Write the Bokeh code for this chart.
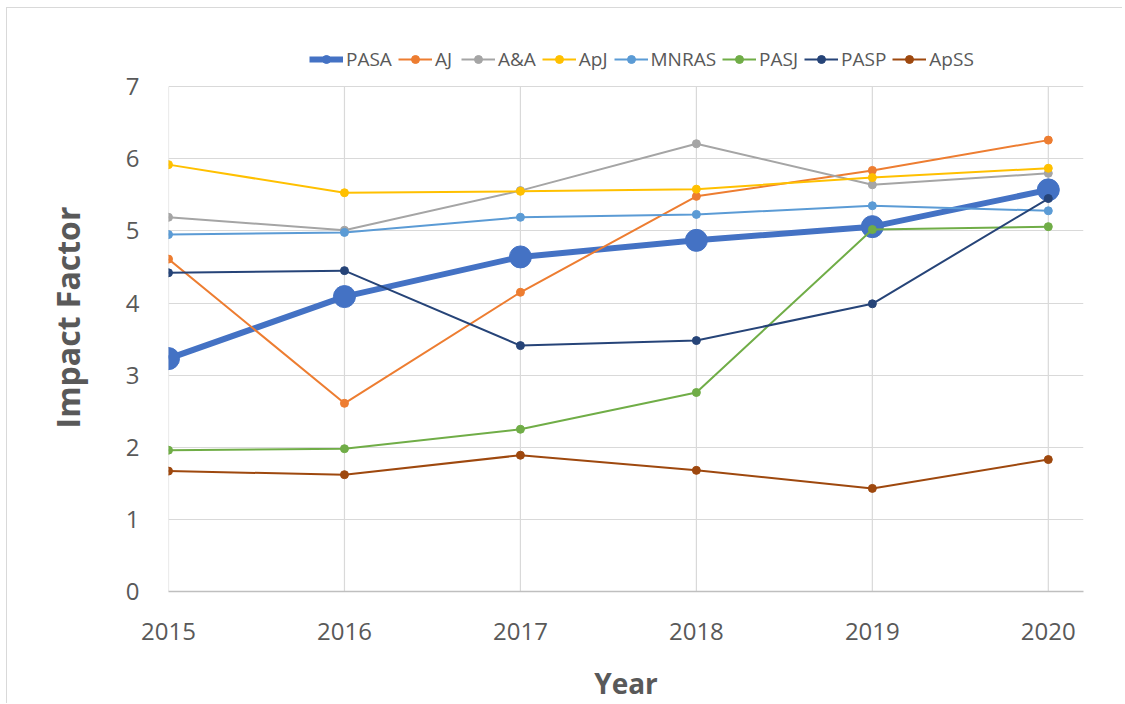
from bokeh.plotting import figure
from bokeh.models import Range1d, FixedTicker, Legend, LegendItem
from bokeh.embed import file_html
from bokeh.resources import INLINE

years = [2015, 2016, 2017, 2018, 2019, 2020]
y_ticks = [0, 1, 2, 3, 4, 5, 6, 7]

pasa = [3.23, 4.09, 4.64, 4.87, 5.06, 5.57]
aj = [4.61, 2.61, 4.15, 5.48, 5.84, 6.26]
aa = [5.19, 5.01, 5.56, 6.21, 5.64, 5.80]
apj = [5.92, 5.53, 5.55, 5.58, 5.74, 5.87]
mnras = [4.95, 4.98, 5.19, 5.23, 5.35, 5.28]
pasj = [1.96, 1.98, 2.25, 2.76, 5.02, 5.06]
pasp = [4.42, 4.45, 3.41, 3.48, 3.99, 5.45]
apss = [1.67, 1.62, 1.89, 1.68, 1.43, 1.83]

series = [
    ("PASA", pasa, "#4472C4"),
    ("AJ", aj, "#ED7D31"),
    ("A&A", aa, "#A5A5A5"),
    ("ApJ", apj, "#FFC000"),
    ("MNRAS", mnras, "#5B9BD5"),
    ("PASJ", pasj, "#70AD47"),
    ("PASP", pasp, "#264478"),
    ("ApSS", apss, "#9E480E"),
]

y_top = 7.6  # headroom above the plot area for the legend

p = figure(width=1116, height=696, output_backend="svg", toolbar_location=None,
           x_range=Range1d(2015, 2020.2), y_range=Range1d(0, y_top),
           min_border_left=161, min_border_right=40, min_border_top=35,
           min_border_bottom=113)
p.styles = {"border-top": "1px solid #D9D9D9", "border-left": "1px solid #D9D9D9",
            "margin-left": "6px", "margin-top": "7px"}
p.outline_line_color = None
p.background_fill_color = "white"
p.border_fill_color = "white"

font = "Open Sans"
for ax in (p.xaxis[0], p.yaxis[0]):
    ax.major_tick_line_color = None
    ax.minor_tick_line_color = None
    ax.major_label_text_font = font
    ax.major_label_text_font_size = "24px"
    ax.major_label_text_color = "#595959"
    ax.axis_label_text_font = font
    ax.axis_label_text_font_style = "bold"
    ax.axis_label_text_color = "#595959"

p.xaxis.ticker = FixedTicker(ticks=years)
p.yaxis.ticker = FixedTicker(ticks=y_ticks)
p.xaxis.axis_label = "Year"
p.yaxis.axis_label = "Impact Factor"
p.xaxis.axis_label_text_font_size = "28px"
p.yaxis.axis_label_text_font_size = "32px"
p.xaxis.axis_line_color = "#BFBFBF"
p.xaxis.axis_line_width = 1.5
p.yaxis.axis_line_color = None
p.xaxis.major_label_standoff = 25
p.yaxis.major_label_standoff = 23
p.xaxis.axis_label_standoff = 21
p.yaxis.axis_label_standoff = 34

p.xgrid.grid_line_color = None
p.ygrid.grid_line_color = "#D9D9D9"
p.ygrid.grid_line_width = 1.2

# vertical gridlines only inside the 0..7 plot area
p.segment(x0=years, y0=[0] * len(years), x1=years, y1=[7] * len(years),
          line_color="#D9D9D9", line_width=1.2)

items = []
for name, vals, color in series:
    if name == "PASA":
        lw, ms = 6, 22
    else:
        lw, ms = 2, 8
    l = p.line(years, vals, line_color=color, line_width=lw)
    s = p.scatter(years, vals, size=ms, fill_color=color, line_color=color)
    items.append(LegendItem(label=name, renderers=[l, s]))

legend = Legend(items=items, orientation="horizontal", location=(141, 519),
                label_text_font=font, label_text_font_size="19px",
                label_text_color="#595959", glyph_width=34, glyph_height=20,
                label_standoff=3, spacing=6, padding=0, margin=0,
                border_line_color=None, background_fill_alpha=0)
p.add_layout(legend, "center")

open("out.html", "w").write(file_html(p, INLINE))
